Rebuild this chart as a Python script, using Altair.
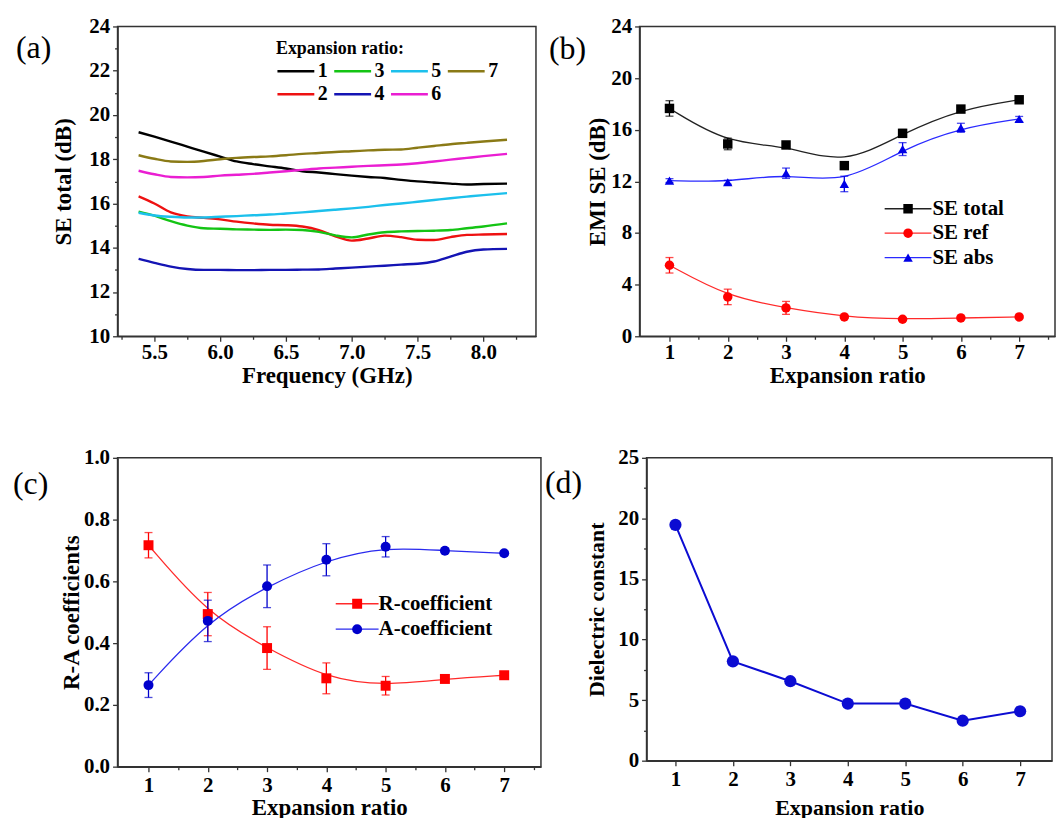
import altair as alt
import pandas as pd

FONT = "Liberation Serif"

# ---------------- (a) SE total vs frequency ----------------
freq_ghz = [5.38, 5.50, 5.625, 5.75, 5.875, 6.0, 6.125, 6.25, 6.375, 6.5, 6.625, 6.75,
            6.875, 7.0, 7.125, 7.25, 7.375, 7.5, 7.625, 7.75, 7.875, 8.0, 8.18]
se_ratio_1 = [19.22, 19.02, 18.80, 18.57, 18.34, 18.12, 17.90, 17.78, 17.68, 17.58, 17.46, 17.40,
              17.33, 17.26, 17.20, 17.15, 17.07, 17.00, 16.95, 16.90, 16.86, 16.88, 16.90]
se_ratio_2 = [16.32, 16.00, 15.60, 15.42, 15.35, 15.28, 15.18, 15.10, 15.04, 15.02, 14.96, 14.80,
              14.52, 14.32, 14.42, 14.55, 14.48, 14.36, 14.35, 14.48, 14.58, 14.60, 14.62]
se_ratio_3 = [15.63, 15.45, 15.20, 15.00, 14.88, 14.86, 14.83, 14.82, 14.81, 14.82, 14.80, 14.72,
              14.56, 14.47, 14.60, 14.70, 14.74, 14.76, 14.77, 14.80, 14.88, 14.96, 15.10]
se_ratio_4 = [13.50, 13.32, 13.15, 13.04, 13.00, 13.00, 12.99, 12.99, 13.00, 13.00, 13.01, 13.02,
              13.06, 13.10, 13.15, 13.19, 13.24, 13.28, 13.38, 13.60, 13.82, 13.92, 13.95]
se_ratio_5 = [15.58, 15.46, 15.40, 15.37, 15.37, 15.40, 15.43, 15.47, 15.50, 15.55, 15.60, 15.66,
              15.72, 15.78, 15.85, 15.93, 16.00, 16.08, 16.16, 16.24, 16.31, 16.38, 16.47]
se_ratio_6 = [17.48, 17.32, 17.20, 17.18, 17.20, 17.26, 17.30, 17.34, 17.40, 17.46, 17.52, 17.58,
              17.62, 17.66, 17.70, 17.73, 17.76, 17.82, 17.90, 17.98, 18.06, 18.14, 18.24]
se_ratio_7 = [18.18, 18.02, 17.90, 17.88, 17.92, 18.00, 18.06, 18.10, 18.13, 18.18, 18.24, 18.28,
              18.33, 18.36, 18.40, 18.43, 18.44, 18.52, 18.60, 18.68, 18.74, 18.80, 18.88]
ratio_labels = ["1", "2", "3", "4", "5", "6", "7"]
ratio_colors = ["#000000", "#ee1111", "#14c414", "#1414b4", "#1cc0ec", "#ea1ed2", "#8a7a16"]
legend_order_a = ["1", "3", "5", "7", "2", "4", "6"]

# ---------------- (b) EMI SE vs expansion ratio ----------------
ratio_x = [1, 2, 3, 4, 5, 6, 7]
se_total = [17.65, 14.90, 14.82, 13.22, 15.72, 17.60, 18.32]
se_total_err = [0.60, 0.45, 0.20, 0.0, 0.30, 0.15, 0.15]
se_ref = [5.50, 3.05, 2.20, 1.50, 1.32, 1.42, 1.50]
se_ref_err = [0.60, 0.60, 0.50, 0.10, 0.10, 0.10, 0.10]
se_abs = [12.06, 11.93, 12.63, 11.80, 14.50, 16.15, 16.83]
se_abs_err = [0.15, 0.15, 0.40, 0.60, 0.50, 0.35, 0.20]
series_b = ["SE total", "SE ref", "SE abs"]
colors_b = ["#000000", "#ff0000", "#0000e6"]
line_colors_b = ["#222222", "#ff2a2a", "#2a2aff"]

# ---------------- (c) R-A coefficients ----------------
r_coef = [0.717, 0.494, 0.384, 0.286, 0.262, 0.284, 0.296]
r_coef_err = [0.041, 0.070, 0.069, 0.050, 0.030, 0.008, 0.008]
a_coef = [0.264, 0.472, 0.584, 0.670, 0.712, 0.699, 0.691]
a_coef_err = [0.040, 0.067, 0.069, 0.052, 0.033, 0.008, 0.008]
series_c = ["R-coefficient", "A-coefficient"]
colors_c = ["#ff0000", "#0000cc"]
line_colors_c = ["#ff2a2a", "#2a2aee"]

# ---------------- (d) dielectric constant ----------------
dielectric = [19.47, 8.20, 6.56, 4.71, 4.71, 3.30, 4.08]


# ---------------- helpers ----------------
def axis(values, minor_test, label_expr, title_pad, label_size=21, title_size=23, label_pad=3):
    return alt.Axis(
        values=values,
        labelExpr=f"({minor_test}) ? '' : {label_expr}",
        tickSize={"condition": {"test": minor_test, "value": 3}, "value": 5},
        titlePadding=title_pad,
        labelFont=FONT, labelFontSize=label_size, labelFontWeight="bold", labelColor="#000",
        titleFont=FONT, titleFontSize=title_size, titleFontWeight="bold", titleColor="#000",
        domainColor="#333", domainWidth=1.5, tickColor="#333", tickWidth=1.3,
        labelPadding=label_pad, labelOverlap=False, labelFlush=False, grid=False,
    )


def panel_label(txt, dx, dy):
    return alt.Chart(pd.DataFrame({"t": [txt]})).mark_text(
        font=FONT, fontSize=32, align="left", baseline="middle", color="#000"
    ).encode(text="t:N", x=alt.value(dx), y=alt.value(dy))


X_MINOR_HALF = "datum.value % 1 != 0"
xvals_int = [1, 1.5, 2, 2.5, 3, 3.5, 4, 4.5, 5, 5.5, 6, 6.5, 7, 7.5]

# ---------------- panel (a) ----------------
series_a = [se_ratio_1, se_ratio_2, se_ratio_3, se_ratio_4, se_ratio_5, se_ratio_6, se_ratio_7]
df_a = pd.DataFrame([
    {"freq": f, "se": v, "ratio": r}
    for r, vals in zip(ratio_labels, series_a) for f, v in zip(freq_ghz, vals)
])
color_of = dict(zip(ratio_labels, ratio_colors))
lines_a = alt.Chart(df_a).mark_line(strokeWidth=2.4, interpolate="monotone").encode(
    x=alt.X("freq:Q", title="Frequency (GHz)",
            scale=alt.Scale(domain=[5.22, 8.40], nice=False, zero=False),
            axis=axis([5.25 + 0.25 * i for i in range(13)],
                      "abs(datum.value*2 - round(datum.value*2)) > 0.01",
                      "format(datum.value, '.1f')", 2, label_pad=0)),
    y=alt.Y("se:Q", title="SE total (dB)",
            scale=alt.Scale(domain=[10, 24], nice=False, zero=False),
            axis=axis(list(range(10, 25)), "datum.value % 2 != 0",
                      "format(datum.value, 'd')", 13)),
    color=alt.Color("ratio:N",
                    scale=alt.Scale(domain=legend_order_a, range=[color_of[r] for r in legend_order_a]),
                    legend=alt.Legend(
                        title="Expansion ratio:", orient="none", legendX=159, legendY=14,
                        columns=4, direction="horizontal", symbolType="stroke", symbolSize=1369,
                        symbolStrokeWidth=2.6, clipHeight=20,
                        labelFont=FONT, labelFontSize=20, labelFontWeight="bold", labelColor="#000",
                        titleFont=FONT, titleFontSize=18, titleFontWeight="bold", titleColor="#000",
                        columnPadding=5, rowPadding=3, labelOffset=2, titlePadding=3, padding=0,
                    )),
    detail="ratio:N",
)
panel_a = alt.layer(lines_a, panel_label("(a)", -102, 22)).properties(width=420, height=311)


# ---------------- panels (b), (c) ----------------
def ranged_df(names, values, errs):
    rows = []
    for name, vals, es in zip(names, values, errs):
        for x, v, e in zip(ratio_x, vals, es):
            rows.append({"ratio": x, "value": v, "lo": v - e, "hi": v + e, "err": e,
                         "series": name, "curve": name + " "})
    return pd.DataFrame(rows)


def error_panel(df, names, colors, line_colors, xdom, ydom, yaxis, xtitle_pad,
                leg_x, leg_y, line_len, clip_h, row_pad, point_shapes, point_size, xlabel_pad,
                pt_label_offset):
    xenc = alt.X("ratio:Q", title="Expansion ratio",
                 scale=alt.Scale(domain=xdom, nice=False, zero=False),
                 axis=axis(xvals_int, X_MINOR_HALF, "format(datum.value, 'd')", xtitle_pad,
                           label_pad=xlabel_pad))
    ysc = alt.Scale(domain=ydom, nice=False, zero=False)
    common = dict(title=None, orient="none", legendX=leg_x, legendY=leg_y, clipHeight=clip_h,
                  rowPadding=row_pad, padding=0, labelFont=FONT, labelFontSize=21,
                  labelFontWeight="bold", labelColor="#000")
    # legend of the fitted curves: long strokes, no labels (labels come from the marker legend)
    line_leg = alt.Legend(symbolType="stroke", symbolSize=line_len * line_len, symbolStrokeWidth=1.3,
                          labelOffset=3, labelExpr="''", zindex=1, **common)
    # marker legend, shifted so each marker sits in the middle of its stroke
    slot = line_len + 2
    pt_leg = alt.Legend(symbolSize=point_size, symbolStrokeWidth=0,
                        symbolOffset=(slot - 21) / 2.0, labelOffset=pt_label_offset, zindex=2, **common)
    curve_names = [n + " " for n in names]
    base = alt.Chart(df)
    layers = [
        base.mark_line(interpolate="basis", strokeWidth=1.3).encode(
            x=xenc, y=alt.Y("value:Q", scale=ysc, axis=yaxis[0], title=yaxis[1]),
            stroke=alt.Stroke("curve:N", scale=alt.Scale(domain=curve_names, range=line_colors),
                              legend=line_leg)),
    ]
    for name, c in zip(names, colors):
        errs = base.transform_filter("datum.err > 0").transform_filter(alt.datum.series == name)
        layers += [
            errs.mark_rule(strokeWidth=1.3, color=c).encode(
                x=xenc, y=alt.Y("lo:Q", scale=ysc), y2="hi:Q"),
            errs.mark_tick(orient="horizontal", size=8, thickness=1.3, color=c).encode(
                x=xenc, y=alt.Y("hi:Q", scale=ysc)),
            errs.mark_tick(orient="horizontal", size=8, thickness=1.3, color=c).encode(
                x=xenc, y=alt.Y("lo:Q", scale=ysc)),
        ]
    layers.append(
        base.mark_point(filled=True, opacity=1, size=point_size).encode(
            x=xenc, y=alt.Y("value:Q", scale=ysc),
            color=alt.Color("series:N", scale=alt.Scale(domain=names, range=colors), legend=pt_leg),
            shape=alt.Shape("series:N", scale=alt.Scale(domain=names, range=point_shapes), legend=pt_leg)))
    return layers


df_b = ranged_df(series_b, [se_total, se_ref, se_abs], [se_total_err, se_ref_err, se_abs_err])
layers_b = error_panel(
    df_b, series_b, colors_b, line_colors_b,
    [0.487, 7.615], [0, 24],
    (axis(list(range(0, 25, 2)), "datum.value % 4 != 0", "format(datum.value, 'd')", 1), "EMI SE (dB)"),
    2, 245, 172, 47, 22, 2.5, ["square", "circle", "triangle-up"], 90, 0, 14)
panel_b = alt.layer(*layers_b, panel_label("(b)", -91, 23)).properties(width=417, height=311)

df_c = ranged_df(series_c, [r_coef, a_coef], [r_coef_err, a_coef_err])
layers_c = error_panel(
    df_c, series_c, colors_c, line_colors_c,
    [0.478, 7.62], [0, 1],
    (axis([round(0.1 * i, 1) for i in range(11)],
          "abs(datum.value*5 - round(datum.value*5)) > 0.01",
          "format(datum.value, '.1f')", 0), "R-A coefficients"),
    1, 218, 136, 43, 21, 3.5, ["square", "circle"], 100, 3, 11)
panel_c = alt.layer(*layers_c, panel_label("(c)", -105, 26)).properties(width=425, height=310)

# ---------------- panel (d) ----------------
df_d = pd.DataFrame({"ratio": ratio_x, "eps": dielectric})
xd = alt.X("ratio:Q", title="Expansion ratio",
           scale=alt.Scale(domain=[0.497, 7.555], nice=False, zero=False),
           axis=axis(ratio_x, "false", "format(datum.value, 'd')", 8, title_size=22))
yd = alt.Y("eps:Q", title="Dielectric constant",
           scale=alt.Scale(domain=[0, 25], nice=False, zero=False),
           axis=axis([2.5 * i for i in range(11)], "datum.value % 5 != 0",
                     "format(datum.value, 'd')", 9, title_size=22))
line_d = alt.Chart(df_d).mark_line(color="#0c0cd2", strokeWidth=2).encode(x=xd, y=yd)
pts_d = alt.Chart(df_d).mark_point(filled=True, opacity=1, size=150, color="#0c0cd2").encode(x=xd, y=yd)
panel_d = alt.layer(line_d, pts_d, panel_label("(d)", -102, 25)).properties(width=407, height=304)

indep = dict(color="independent", fill="independent", stroke="independent", shape="independent")
top_row = alt.hconcat(panel_a, panel_b, spacing=104, bounds="flush").resolve_scale(**indep)
bottom_row = alt.hconcat(panel_c, panel_d, spacing=106, bounds="flush").resolve_scale(**indep)
chart = alt.vconcat(top_row, bottom_row, spacing=58).resolve_scale(**indep).properties(
    padding={"left": 12, "top": 13, "right": 0, "bottom": 0},
    background="white",
).configure_view(stroke="#333", strokeWidth=1.5)

chart.save("out.html", embed_options={"renderer": "svg", "actions": False})
